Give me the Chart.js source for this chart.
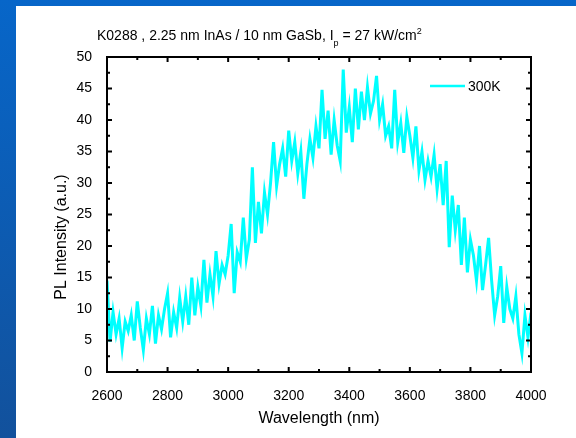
<!DOCTYPE html>
<html lang="en">
<head>
<meta charset="UTF-8">
<title>K0288 PL spectrum</title>
<script src="https://cdn.jsdelivr.net/npm/chart.js"></script>
<style>
  html, body { margin: 0; padding: 0; }
  body {
    width: 576px; height: 438px; overflow: hidden; position: relative;
    background: linear-gradient(to bottom, #0766c9, #12519c);
  }
  .panel { position: absolute; left: 16px; top: 6px; right: 0; bottom: 0; background: #fff; }
  .wrap { position: absolute; left: 0; top: 0; width: 576px; height: 438px; }
</style>
</head>
<body>
<div class="panel"></div>
<div class="wrap"><canvas id="plChart" width="576" height="438"></canvas></div>
<script>
// wavelength grid (nm)
const wavelength = [
  2600, 2610, 2620, 2630, 2640, 2650, 2660, 2670, 2680, 2690,
  2700, 2710, 2720, 2730, 2740, 2750, 2760, 2770, 2780, 2790,
  2800, 2810, 2820, 2830, 2840, 2850, 2860, 2870, 2880, 2890,
  2900, 2910, 2920, 2930, 2940, 2950, 2960, 2970, 2980, 2990,
  3000, 3010, 3020, 3030, 3040, 3050, 3060, 3070, 3080, 3090,
  3100, 3110, 3120, 3130, 3140, 3150, 3160, 3170, 3180, 3190,
  3200, 3210, 3220, 3230, 3240, 3250, 3260, 3270, 3280, 3290,
  3300, 3310, 3320, 3330, 3340, 3350, 3360, 3370, 3380, 3390,
  3400, 3410, 3420, 3430, 3440, 3450, 3460, 3470, 3480, 3490,
  3500, 3510, 3520, 3530, 3540, 3550, 3560, 3570, 3580, 3590,
  3600, 3610, 3620, 3630, 3640, 3650, 3660, 3670, 3680, 3690,
  3700, 3710, 3720, 3730, 3740, 3750, 3760, 3770, 3780, 3790,
  3800, 3810, 3820, 3830, 3840, 3850, 3860, 3870, 3880, 3890,
  3900, 3910, 3920, 3930, 3940, 3950, 3960, 3970, 3980, 3990,
  4000
];

// PL intensity at 300 K (a.u.)
const intensity300K = [
  14.5, 4.8, 9.5, 6.0, 8.5, 3.8, 8.0, 6.5, 9.0, 5.0,
  11.2, 7.0, 3.5, 8.5, 6.0, 10.5, 4.5, 9.0, 6.8, 10.0,
  12.5, 5.5, 9.5, 7.0, 11.8, 8.0, 12.0, 7.5, 15.0, 9.0,
  13.5, 10.5, 17.8, 11.0, 15.5, 12.0, 19.2, 14.0, 17.0, 15.5,
  18.5, 23.5, 12.5, 19.0, 17.5, 24.5, 18.0, 21.0, 32.5, 20.5,
  27.0, 22.0, 28.5, 25.0, 30.0, 36.5, 29.5, 33.0, 35.5, 31.0,
  38.3, 33.5, 36.5, 31.5, 35.0, 27.5, 33.0, 37.0, 34.0, 39.0,
  35.5, 44.8, 37.0, 41.5, 34.5, 40.0, 36.0, 33.5, 48.0, 38.0,
  42.0, 36.5, 45.0, 38.5, 44.5, 40.0, 45.2, 41.0, 43.0, 47.0,
  40.0, 42.5, 37.5, 39.0, 35.5, 44.8, 36.5, 39.5, 34.8, 40.5,
  37.5, 34.0, 39.0, 32.0, 35.0, 30.5, 33.5, 31.0, 34.5, 29.0,
  33.0, 26.5, 33.5, 19.8, 28.0, 22.5, 26.5, 17.0, 24.5, 15.8,
  21.0, 18.5, 14.5, 20.0, 13.0, 17.0, 21.3, 14.5, 9.0, 12.0,
  16.8, 7.8, 13.5, 10.0, 8.5, 12.0, 6.0, 3.0, 9.0, 5.5,
  9.4
];

// minor tick positions
const xMinorTicks = [2700, 2900, 3100, 3300, 3500, 3700, 3900];
const yMinorTicks = [2.5, 7.5, 12.5, 17.5, 22.5, 27.5, 32.5, 37.5, 42.5, 47.5];

const FONT = 'Arial, "Liberation Sans", sans-serif';

// boxed frame with inward ticks on all four sides
const frameTicks = {
  id: 'frameTicks',
  afterDatasetsDraw(chart) {
    const { ctx, chartArea: a, scales: { x, y } } = chart;
    ctx.save();
    ctx.strokeStyle = '#000';
    ctx.lineWidth = 2;
    ctx.beginPath();
    const xTick = (v, len) => {
      const px = x.getPixelForValue(v);
      ctx.moveTo(px, a.bottom); ctx.lineTo(px, a.bottom - len);
      ctx.moveTo(px, a.top); ctx.lineTo(px, a.top + len);
    };
    const yTick = (v, len) => {
      const py = y.getPixelForValue(v);
      ctx.moveTo(a.left, py); ctx.lineTo(a.left + len, py);
      ctx.moveTo(a.right, py); ctx.lineTo(a.right - len, py);
    };
    x.ticks.forEach(t => xTick(t.value, 5));
    y.ticks.forEach(t => yTick(t.value, 5));
    xMinorTicks.forEach(v => xTick(v, 3));
    yMinorTicks.forEach(v => yTick(v, 3));
    ctx.stroke();
    ctx.strokeRect(a.left, a.top, a.right - a.left, a.bottom - a.top);
    ctx.restore();
  }
};

// title with subscript / superscript, y-axis title, legend in the upper right corner
const annotations = {
  id: 'annotations',
  afterDraw(chart) {
    const { ctx, chartArea: a } = chart;
    ctx.save();
    ctx.fillStyle = '#000';
    ctx.textBaseline = 'alphabetic';
    let xPos = 97;
    const base = 40;
    const part = (txt, size, dy) => {
      ctx.font = size + 'px ' + FONT;
      ctx.fillText(txt, xPos, base + dy);
      xPos += ctx.measureText(txt).width;
    };
    part('K0288 , 2.25 nm InAs / 10 nm GaSb, I', 14, 0);
    part('p', 9, 6);
    part(' = 27 kW/cm', 14, 0);
    part('2', 9, -6);

    // y-axis title sits a little below the middle of the axis
    ctx.save();
    ctx.translate(62, 237);
    ctx.rotate(-Math.PI / 2);
    ctx.font = '16px ' + FONT;
    ctx.textAlign = 'center';
    ctx.textBaseline = 'middle';
    ctx.fillText('PL Intensity (a.u.)', 0, 0);
    ctx.restore();

    const ds = chart.data.datasets[0];
    const ly = a.top + 29;
    ctx.strokeStyle = ds.borderColor;
    ctx.lineWidth = 2.5;
    ctx.beginPath();
    ctx.moveTo(a.right - 101, ly);
    ctx.lineTo(a.right - 66, ly);
    ctx.stroke();
    ctx.font = '14px ' + FONT;
    ctx.textBaseline = 'middle';
    ctx.fillText(ds.label, a.right - 63, ly + 1);
    ctx.restore();
  }
};

new Chart(document.getElementById('plChart'), {
  type: 'line',
  data: {
    datasets: [{
      label: '300K',
      data: wavelength.map((w, i) => ({ x: w, y: intensity300K[i] })),
      borderColor: '#00ffff',
      borderWidth: 3,
      pointRadius: 0,
      tension: 0
    }]
  },
  options: {
    responsive: false,
    animation: false,
    layout: { padding: { left: 40, right: 45, top: 57, bottom: 8 } },
    plugins: { legend: { display: false }, tooltip: { enabled: false } },
    scales: {
      x: {
        type: 'linear', min: 2600, max: 4000,
        afterFit: s => { s.height = 58; },
        grid: { display: false },
        border: { display: false },
        ticks: {
          stepSize: 200, padding: 8, color: '#000', maxRotation: 0,
          font: { family: FONT, size: 14 },
          callback: v => String(v)
        },
        title: { display: true, text: 'Wavelength (nm)', color: '#000', font: { family: FONT, size: 16 }, padding: { top: 0, bottom: 2 } }
      },
      y: {
        min: 0, max: 50,
        afterFit: s => { s.width = 67; },
        grid: { display: false },
        border: { display: false },
        ticks: { stepSize: 5, padding: 7, color: '#000', font: { family: FONT, size: 14 } }
      }
    }
  },
  plugins: [frameTicks, annotations]
});
</script>
</body>
</html>
